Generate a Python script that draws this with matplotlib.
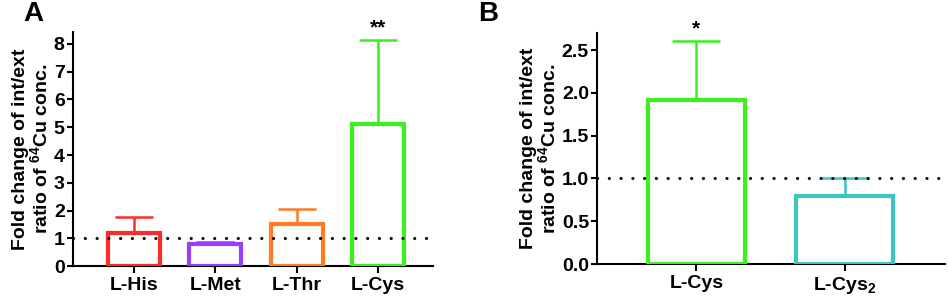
import matplotlib
matplotlib.use("Agg")
import matplotlib.pyplot as plt
import numpy as np

plt.rcParams['font.family'] = ['Liberation Sans', 'DejaVu Sans']
plt.rcParams['font.weight'] = 'bold'
plt.rcParams['mathtext.fontset'] = 'custom'
plt.rcParams['mathtext.rm'] = 'Liberation Sans:bold'
plt.rcParams['mathtext.it'] = 'Liberation Sans:bold'
plt.rcParams['mathtext.bf'] = 'Liberation Sans:bold'

# panel A data
a_labels = ["L-His", "L-Met", "L-Thr", "L-Cys"]
a_means = [1.2, 0.8, 1.5, 5.1]
a_upper = [1.77, 0.88, 2.07, 8.15]  # top of error bar
a_colors = ["#ff2a2a", "#9b3dff", "#ff7b24", "#3cf01e"]
a_stars = ["", "", "", "**"]

# panel B data
b_labels = ["L-Cys", "L-Cys$_2$"]
b_means = [1.92, 0.79]
b_upper = [2.61, 1.01]
b_colors = ["#3cf01e", "#3cc3c3"]
b_stars = ["*", ""]

ylabel = "Fold change of int/ext\nratio of $^{64}$Cu conc."

fig = plt.figure(figsize=(9.51, 2.99), dpi=100)
axA = fig.add_axes([0.0768, 0.110, 0.378, 0.783])
axB = fig.add_axes([0.628, 0.117, 0.366, 0.773])


def draw_panel(ax, labels, means, upper, colors, stars, width, capsize, lw):
    x = np.arange(len(labels))
    for i in range(len(labels)):
        ax.errorbar(x[i], means[i], yerr=[[0], [upper[i] - means[i]]], fmt='none',
                    ecolor=colors[i], elinewidth=1.8, capsize=capsize, capthick=1.8, zorder=2)
        ax.bar(x[i], means[i], width=width, facecolor='white', edgecolor=colors[i],
               linewidth=lw, zorder=3)
        if stars[i]:
            ax.text(x[i], upper[i] + 0.01 * ax.get_ylim()[1], stars[i], ha='center',
                    va='bottom', fontsize=15, fontweight='bold')
    ax.axhline(1.0, color='black', linestyle=(0, (0.05, 3.8)), linewidth=2.2, zorder=4,
               clip_on=False, dash_capstyle='round')
    ax.set_xticks(x)
    ax.set_xticklabels(labels, fontsize=14, fontweight='bold')
    ax.spines['top'].set_visible(False)
    ax.spines['right'].set_visible(False)
    ax.spines['left'].set_linewidth(1.5)
    ax.spines['bottom'].set_linewidth(1.5)
    ax.tick_params(axis='both', width=1.5, labelsize=14)
    ax.tick_params(axis='x', length=5, pad=3)
    ax.tick_params(axis='y', length=4, pad=2)
    for t in ax.get_yticklabels():
        t.set_fontweight('bold')
    ax.set_ylabel(ylabel, fontsize=14, fontweight='bold', linespacing=1.0, labelpad=2)


axA.set_ylim(0, 8.43)
draw_panel(axA, a_labels, a_means, a_upper, a_colors, a_stars, 0.64, 14, 3)
axA.set_xlim(-0.75, 3.67)
axA.set_ylim(0, 8.43)
axA.set_yticks(range(0, 9))

axB.set_ylim(0, 2.70)
draw_panel(axB, b_labels, b_means, b_upper, b_colors, b_stars, 0.65, 17, 3)
axB.set_xlim(-0.67, 1.68)
axB.set_ylim(0, 2.70)
axB.set_yticks([0, 0.5, 1.0, 1.5, 2.0, 2.5])
axB.set_yticklabels(["0.0", "0.5", "1.0", "1.5", "2.0", "2.5"])

fig.text(0.025, 0.995, "A", fontsize=20, fontweight='bold', va='top')
fig.text(0.503, 0.995, "B", fontsize=20, fontweight='bold', va='top')

fig.savefig("out.png", dpi=100)
